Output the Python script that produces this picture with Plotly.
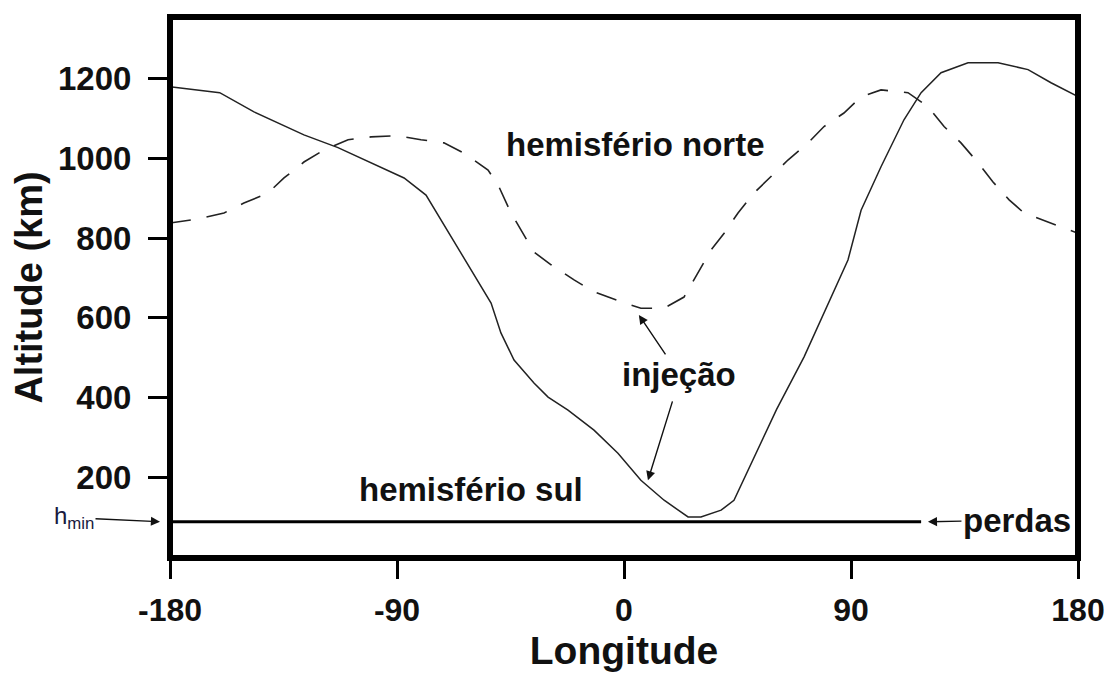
import plotly.graph_objects as go

# Solid curve: hemisfério sul
sul_lon = [-180, -160.3, -146.7, -126.9, -113.4, -87.2, -78.5, -64.6, -52.7, -48.8, -43.6,
           -35.7, -30.1, -22.2, -11.9, -2.4, 6.7, 15.9, 25.4, 30.5, 38.5, 43.6, 50.4, 60.5,
           71.4, 78.1, 88.8, 94.0, 101.9, 111.0, 117.8, 125.7, 136.4, 148.3, 160.2, 169.3, 180]
sul_alt = [1180, 1165, 1117, 1059, 1027, 951, 908, 763, 637, 562, 494,
           436, 401, 368, 318, 260, 192, 142, 100, 100, 117, 142, 235, 370,
           502, 594, 745, 870, 979, 1097, 1165, 1215, 1240, 1240, 1223, 1190, 1155]

# Dashed curve: hemisfério norte
norte_lon = [-180, -169, -158.6, -150.7, -141.2, -134.8, -126.9, -119, -109.4, -100.3, -89.6,
             -80.5, -71.4, -63.4, -53.9, -49.6, -44.8, -40.8, -35.7, -28.9, -19.8, -11.9,
             -2.4, 6.7, 15.9, 23.8, 30.5, 34.5, 39.7, 45.2, 51.5, 58.3, 65.0, 73.0, 79.3,
             87.2, 94.0, 101.9, 112.6, 120.5, 126.9, 133.6, 140.4, 146.3, 152.7, 158.6,
             169.3, 180]
norte_alt = [838, 848, 863, 888, 913, 951, 991, 1021, 1047, 1054, 1057,
             1047, 1039, 1013, 971, 929, 863, 821, 765, 733, 695, 665,
             643, 624, 624, 652, 728, 770, 812, 863, 913, 954, 996, 1039, 1080,
             1114, 1155, 1172, 1165, 1130, 1080, 1039, 989, 941, 896, 863,
             838, 812]

# h_min line (losses)
hmin_lon = [-180, 117.8]
hmin_alt = [88, 88]

x_ticks = [-180, -90, 0, 90, 180]
y_ticks = [200, 400, 600, 800, 1000, 1200]

FONT = "Liberation Sans, Arial, sans-serif"
INK = "#111111"

fig = go.Figure()
fig.add_trace(go.Scatter(x=norte_lon, y=norte_alt, mode="lines",
                         line=dict(color="#222222", width=1.6, dash="21px,16px"),
                         showlegend=False, hoverinfo="skip"))
fig.add_trace(go.Scatter(x=sul_lon, y=sul_alt, mode="lines",
                         line=dict(color="#222222", width=1.5),
                         showlegend=False, hoverinfo="skip"))
fig.add_trace(go.Scatter(x=hmin_lon, y=hmin_alt, mode="lines",
                         line=dict(color="#000000", width=3),
                         showlegend=False, hoverinfo="skip"))

txt = dict(family=FONT, size=33, color=INK, weight="bold")
arrow = dict(showarrow=True, arrowhead=2, arrowsize=1.3, arrowwidth=1.4, arrowcolor=INK)

annotations = [
    dict(x=4.4, y=1034, text="hemisfério norte", showarrow=False, font=txt),
    dict(x=-60.7, y=170, text="hemisfério sul", showarrow=False, font=txt),
    # "perdas" label with its arrow pointing left
    dict(x=120.5, y=88, ax=155.8, ay=92, axref="x", ayref="y", text="perdas",
         font=txt, standoff=0, **arrow),
    # "injeção" label with arrow up to the northern curve
    dict(x=5.9, y=607, ax=21.8, ay=458, axref="x", ayref="y", text="injeção",
         font=txt, **arrow),
    # second arrow from "injeção" down to the southern curve
    dict(x=9.5, y=192, ax=19.4, ay=394, axref="x", ayref="y", text="", **arrow),
    # h_min label with arrow to the axis
    dict(x=-0.011, xref="paper", y=88, yref="y", ax=-86, ay=-4,
         text="h<sub>min</sub>", font=dict(family=FONT, size=24, color="#1a1a40"),
         **arrow),
]

# the page body adds an 8px offset; margins compensate for it
fig.update_layout(
    width=1112, height=676,
    margin=dict(l=162, r=42, t=9, b=126, autoexpand=False),
    paper_bgcolor="white", plot_bgcolor="white",
    font=dict(family=FONT, color=INK),
    annotations=annotations,
    shapes=[dict(type="rect", xref="paper", yref="paper", x0=0, x1=1, y0=0, y1=1,
                 line=dict(color="black", width=6), layer="above")],
    xaxis=dict(range=[-180, 180], tickvals=x_ticks, ticktext=[str(v) for v in x_ticks],
               showgrid=False, zeroline=False, showline=False, automargin=False,
               ticks="outside", ticklen=20, tickwidth=3, tickcolor="black",
               ticklabelstandoff=4,
               tickfont=dict(family=FONT, size=32, color=INK, weight="bold"),
               title=dict(text="Longitude", standoff=9,
                          font=dict(family=FONT, size=39, color=INK, weight="bold"))),
    yaxis=dict(range=[-3, 1355], tickvals=y_ticks, ticktext=[str(v) for v in y_ticks],
               showgrid=False, zeroline=False, showline=False, automargin=False,
               ticks="outside", ticklen=21, tickwidth=3, tickcolor="black",
               ticklabelstandoff=10,
               tickfont=dict(family=FONT, size=33, color=INK, weight="bold"),
               title=dict(text="Altitude (km)", standoff=10,
                          font=dict(family=FONT, size=38, color=INK, weight="bold"))),
)

fig.write_html("out.html")
